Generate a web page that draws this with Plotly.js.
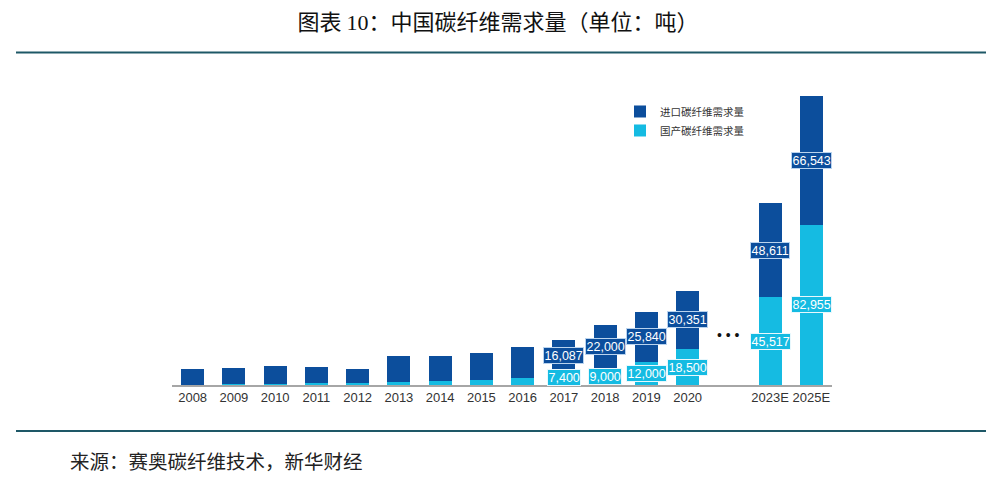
<!DOCTYPE html>
<html>
<head>
<meta charset="utf-8">
<script src="https://cdn.plot.ly/plotly-3.0.1.min.js"></script>
<style>html,body{margin:0;padding:0;background:#fff;}#chart{width:996px;height:485px;}</style>
</head>
<body>
<div id="chart"></div>
<script>
// ---- data ----
var categories = ["2008","2009","2010","2011","2012","2013","2014","2015","2016","2017","2018","2019","2020"," ","2023E","2025E"];
var importDemand   = [8100, 8400, 9300, 8500, 7400, 13600, 13100, 14200, 16000, 16087, 22000, 25840, 30351, null, 48611, 66543];
var domesticDemand = [200, 300, 400, 900, 900, 1600, 1900, 2600, 3600, 7400, 9000, 12000, 18500, null, 45517, 82955];
var labeledFrom = "2017";
var seriesNames = {imp: "进口碳纤维需求量", dom: "国产碳纤维需求量"};
var titleText = "图表 <span style=\"font-family:'Liberation Serif','DejaVu Serif',serif\">10</span>：中国碳纤维需求量（单位：吨）";
var sourceText = "来源：赛奥碳纤维技术，新华财经";

// ---- style ----
var darkBlue = "#0C4E9C";
var cyan = "#15BBE2";
var W = 996, H = 485;
var plotL = 172, plotR = 832, plotT = 90, plotB = 385.5;
function px(x){ return (x - plotL) / (plotR - plotL); }
function py(y){ return (plotB - y) / (plotB - plotT); }
var yMax = 152800;

var traces = [
  {type: "bar", name: seriesNames.dom, x: categories, y: domesticDemand, marker: {color: cyan}, hoverinfo: "x+y+name"},
  {type: "bar", name: seriesNames.imp, x: categories, y: importDemand, marker: {color: darkBlue}, hoverinfo: "x+y+name"}
];

function fmt(v){ return v.toLocaleString("en-US"); }

var labelFont = {family: "Liberation Sans, Arial, sans-serif", size: 12.5, color: "#ffffff"};
var annotations = [];
var start = categories.indexOf(labeledFrom);
for (var i = start; i < categories.length; i++) {
  if (domesticDemand[i] == null) continue;
  var d = domesticDemand[i], m = importDemand[i];
  // category axis: use category index as position
  annotations.push({x: i, y: d / 2, xref: "x", yref: "y", text: fmt(d), showarrow: false,
    font: labelFont, bgcolor: cyan, bordercolor: "#e8f8fd", borderwidth: 1, borderpad: 0.5});
  annotations.push({x: i, y: d + m / 2, xref: "x", yref: "y", text: fmt(m), showarrow: false,
    font: labelFont, bgcolor: darkBlue, bordercolor: "#b9d3ee", borderwidth: 1, borderpad: 0.5});
}
// gap marker
annotations.push({x: categories.indexOf(" "), y: 25900, xref: "x", yref: "y", text: "• • •", showarrow: false,
  font: {family: "Liberation Sans, Arial, sans-serif", size: 14, color: "#111111"}});
// source
annotations.push({x: px(68), y: py(461), xref: "paper", yref: "paper", xanchor: "left", yanchor: "middle",
  text: sourceText, showarrow: false,
  font: {family: "Noto Sans CJK SC, sans-serif", size: 19.5, color: "#222222"}});

var lineColor = "#1E5867";
var layout = {
  width: W, height: H,
  paper_bgcolor: "#ffffff", plot_bgcolor: "#ffffff",
  margin: {l: plotL, r: W - plotR, t: plotT, b: H - plotB, pad: 0},
  barmode: "stack", bargap: 0.44,
  showlegend: true,
  legend: {x: px(620), y: py(97), xanchor: "left", yanchor: "top", traceorder: "reversed",
    font: {family: "Noto Sans CJK SC, sans-serif", size: 10.5, color: "#333333"},
    bgcolor: "rgba(0,0,0,0)", itemwidth: 30, tracegroupgap: 0},
  title: {text: titleText, x: 0.5, xref: "container", y: 1 - 22 / H, yref: "container", yanchor: "middle", xanchor: "center",
    font: {family: "Noto Sans CJK SC, sans-serif", size: 22, color: "#111111", weight: "normal"}},
  xaxis: {type: "category", categoryorder: "array", categoryarray: categories, range: [-0.5, categories.length - 0.5],
    showline: true, linecolor: "#a6a6a6", linewidth: 1.5, ticks: "", showgrid: false, zeroline: false,
    tickfont: {family: "Liberation Sans, Arial, sans-serif", size: 13, color: "#333333"}, fixedrange: true},
  yaxis: {range: [0, yMax], visible: false, showgrid: false, zeroline: false, fixedrange: true},
  annotations: annotations,
  shapes: [
    {type: "line", xref: "paper", yref: "paper", x0: px(16), x1: px(986), y0: py(52.5), y1: py(52.5), line: {color: lineColor, width: 2}},
    {type: "line", xref: "paper", yref: "paper", x0: px(16), x1: px(986), y0: py(431.5), y1: py(431.5), line: {color: lineColor, width: 2}}
  ]
};

Plotly.newPlot("chart", traces, layout, {displayModeBar: false, staticPlot: true});
</script>
</body>
</html>
